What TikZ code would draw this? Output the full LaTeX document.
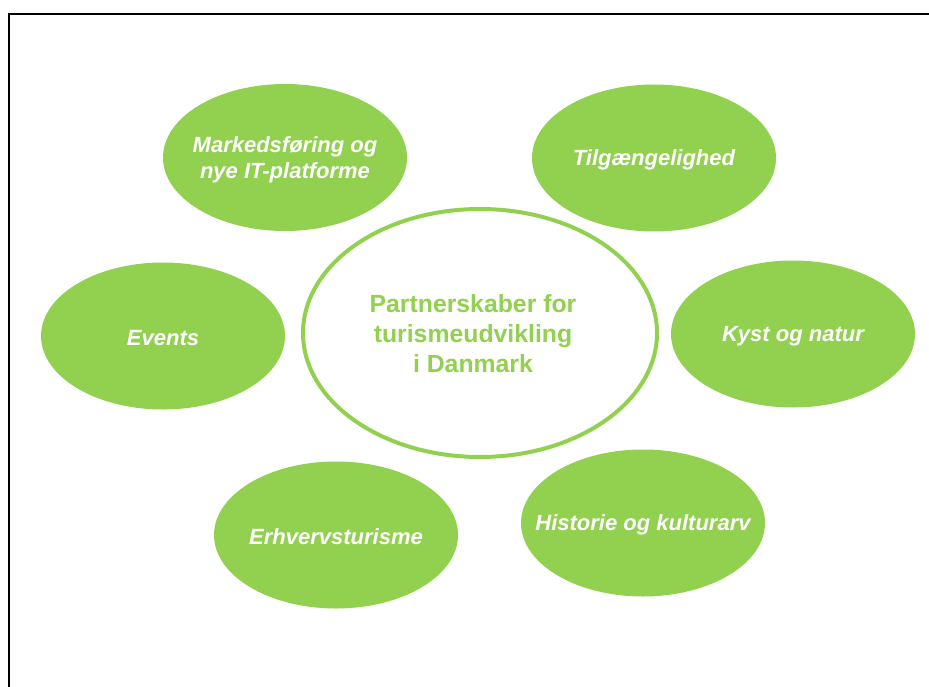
\documentclass[tikz,border=0pt]{standalone}
\usepackage{fontspec}
\setmainfont{Liberation Sans}
\usepackage{tikz}
\usetikzlibrary{shapes.geometric, positioning}
\definecolor{leafGreen}{HTML}{92D050}
\definecolor{frameBlack}{gray}{0.0}

\begin{document}
\begin{tikzpicture}[x=1pt, y=-1pt,
    topic/.style={ellipse, fill=leafGreen, minimum width=244pt, minimum height=147pt, inner sep=0pt},
    topictext/.style={align=center, text=white, yshift=-2pt, font=\fontsize{22}{26}\selectfont\bfseries\itshape},
    hub/.style={ellipse, draw=leafGreen, line width=4pt, minimum width=354pt, minimum height=248pt, inner sep=0pt},
    hubtext/.style={align=center, text=leafGreen, font=\fontsize{24.8}{30}\selectfont\bfseries}]
    \useasboundingbox (0,0) rectangle (929,687);

    % Frame
    \draw[frameBlack, line width=2pt] (8.5,687) -- (8.5,14) -- (929,14);

    % Centre
    \node[hub, label={[hubtext, xshift=-7pt, yshift=-1pt]center:Partnerskaber for\\turismeudvikling\\i Danmark}] (hub) at (480,333) {};

    % Topics round the centre
    \node[topic, label={[topictext]center:Markedsføring og\\nye IT-platforme}] (mkt) at (285,157.5) {};
    \node[topic, label={[topictext]center:Tilgængelighed}] (access) at (654,158) {};
    \node[topic, label={[topictext]center:Events}] (events) at (163,336) {};
    \node[topic, label={[topictext]center:Kyst og natur}] (coast) at (793,334) {};
    \node[topic, label={[topictext]center:Erhvervsturisme}] (business) at (336,535) {};
    \node[topic, label={[topictext]center:Historie og kulturarv}] (heritage) at (643,523) {};
\end{tikzpicture}
\end{document}
